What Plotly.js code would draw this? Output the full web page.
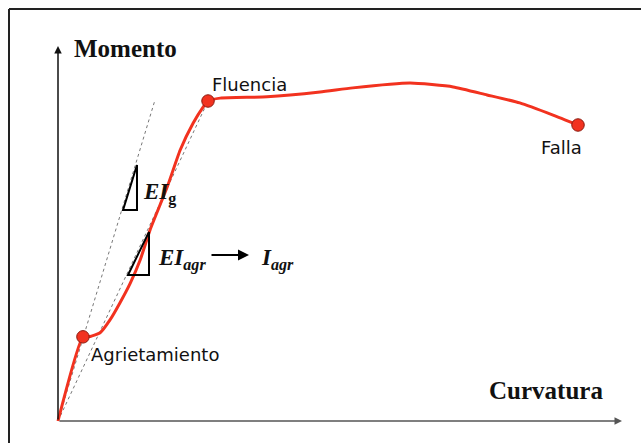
<!DOCTYPE html>
<html>
<head>
<meta charset="utf-8">
<script src="https://cdn.plot.ly/plotly-3.0.1.min.js"></script>
<style>
  html, body { margin: 0; padding: 0; background: #fff; }
  #chart { width: 641px; height: 443px; }
</style>
</head>
<body>
<div id="chart"></div>
<script>
// Moment–curvature diagram of a reinforced concrete section
// (curvature and moment in relative units: Falla at curvature 100, Fluencia at moment 100)

const curvatura = [0, 4.8, 6.2, 8.1, 10.0, 11.9, 13.9, 15.8, 17.7, 21.0, 23.5, 26.0, 27.9, 28.85,
                   31.2, 40.2, 50.4, 56.7, 67.7, 76.0, 82.5, 88.8, 95.2, 100];
const momento   = [0, 26.3, 26.4, 27.6, 31.6, 36.9, 43.1, 50.3, 59.7, 73.1, 84.7, 93.1, 98.1, 100,
                   100.9, 101.3, 102.8, 104.1, 105.6, 104.4, 101.9, 99.4, 95.6, 92.5];

// Characteristic points
const puntos      = ['Agrietamiento', 'Fluencia', 'Falla'];
const puntosCurv  = [4.8, 28.85, 100];
const puntosMom   = [26.3, 100, 92.5];

// Gross-section stiffness line (EIg) and cracked secant stiffness (EIagr, through Fluencia)
const rigidezBrutaCurv = [0, 18.65];
const rigidezBrutaMom  = [0, 100.3];
const rigidezAgrCurv   = [0, puntosCurv[1]];
const rigidezAgrMom    = [0, puntosMom[1]];

const rojo = '#f2321f';

const traces = [
  {
    x: rigidezBrutaCurv, y: rigidezBrutaMom, mode: 'lines',
    line: { color: '#777', width: 1, dash: '3px,3px' }, hoverinfo: 'skip'
  },
  {
    x: rigidezAgrCurv, y: rigidezAgrMom, mode: 'lines',
    line: { color: '#777', width: 1, dash: '3px,3px' }, hoverinfo: 'skip'
  },
  {
    x: curvatura, y: momento, mode: 'lines',
    line: { color: rojo, width: 3, shape: 'spline', smoothing: 0.5 }
  },
  {
    x: puntosCurv, y: puntosMom, mode: 'markers', text: puntos,
    marker: { color: rojo, size: 12.5, line: { color: '#8a1b10', width: 1 } }
  }
];

// pixel scale of the drawing area: 5.2 px per curvature unit, 3.2 px per moment unit
const xr = [-58 / 5.2, (641 - 58) / 5.2];
const yr = [(421 - 443) / 3.2, 421 / 3.2];

const serifB = { family: 'Liberation Serif, Times New Roman, serif', size: 25, color: '#111' };
const sans   = { family: 'DejaVu Sans, Liberation Sans, Arial, sans-serif', size: 18, color: '#111' };
const mathF  = { family: 'Liberation Serif, Times New Roman, serif', size: 23, color: '#111' };

function triangulo(x0, x1, y0, y1) {
  return {
    type: 'path', xref: 'x', yref: 'y',
    path: `M ${x1},${y1} L ${x0},${y0} L ${x1},${y0} Z`,
    line: { color: '#000', width: 2 }, fillcolor: 'rgba(0,0,0,0)'
  };
}

const layout = {
  width: 641, height: 443,
  margin: { l: 0, r: 0, t: 0, b: 0 },
  paper_bgcolor: '#fff', plot_bgcolor: '#fff',
  showlegend: false,
  xaxis: { range: xr, visible: false, fixedrange: true },
  yaxis: { range: yr, visible: false, fixedrange: true },
  shapes: [
    // frame
    { type: 'line', xref: 'paper', yref: 'paper', x0: 9 / 641, x1: 1, y0: 1 - 9 / 443, y1: 1 - 9 / 443,
      line: { color: '#222', width: 2 } },
    { type: 'line', xref: 'paper', yref: 'paper', x0: 9 / 641, x1: 9 / 641, y0: 0, y1: 1 - 9 / 443,
      line: { color: '#222', width: 2 } },
    // slope triangles
    triangulo(12.5, 15.19, 65.9, 80.0),
    triangulo(13.46, 17.5, 45.6, 59.1)
  ],
  annotations: [
    // axes with arrowheads
    { x: 0, y: (421 - 46) / 3.2, ax: 0, ay: 0, xref: 'x', yref: 'y', axref: 'x', ayref: 'y',
      text: '', showarrow: true, arrowhead: 2, arrowsize: 1, arrowwidth: 1.5, arrowcolor: '#111' },
    { x: (622 - 58) / 5.2, y: 0, ax: 0, ay: 0, xref: 'x', yref: 'y', axref: 'x', ayref: 'y',
      text: '', showarrow: true, arrowhead: 2, arrowsize: 1, arrowwidth: 1.5, arrowcolor: '#555' },
    // axis titles
    { x: 2.7, y: 116.5, xref: 'x', yref: 'y', xanchor: 'left', yanchor: 'middle',
      text: '<b>Momento</b>', showarrow: false, font: serifB },
    { x: 82.5, y: 9.6, xref: 'x', yref: 'y', xanchor: 'left', yanchor: 'middle',
      text: '<b>Curvatura</b>', showarrow: false, font: serifB },
    // point labels
    { x: 29.3, y: 105.2, xref: 'x', yref: 'y', xanchor: 'left', yanchor: 'middle',
      text: puntos[1], showarrow: false, font: sans },
    { x: 5.9, y: 20.9, xref: 'x', yref: 'y', xanchor: 'left', yanchor: 'middle',
      text: puntos[0], showarrow: false, font: sans },
    { x: 92.5, y: 85.6, xref: 'x', yref: 'y', xanchor: 'left', yanchor: 'middle',
      text: puntos[2], showarrow: false, font: sans },
    // stiffness labels
    { x: 16.0, y: 71.0, xref: 'x', yref: 'y', xanchor: 'left', yanchor: 'middle',
      text: '<b><i>EI</i><sub>g</sub></b>', showarrow: false, font: mathF },
    { x: 18.9, y: 50.5, xref: 'x', yref: 'y', xanchor: 'left', yanchor: 'middle',
      text: '<b><i>EI</i><sub><i>agr</i></sub></b>', showarrow: false, font: mathF },
    { x: 38.6, y: 50.5, xref: 'x', yref: 'y', xanchor: 'left', yanchor: 'middle',
      text: '<b><i>I</i><sub><i>agr</i></sub></b>', showarrow: false, font: mathF },
    { x: (249 - 58) / 5.2, y: (421 - 255) / 3.2, ax: (210 - 58) / 5.2, ay: (421 - 255) / 3.2,
      xref: 'x', yref: 'y', axref: 'x', ayref: 'y',
      text: '', showarrow: true, arrowhead: 2, arrowsize: 1, arrowwidth: 2.2, arrowcolor: '#000' }
  ]
};

Plotly.newPlot('chart', traces, layout, { displayModeBar: false, staticPlot: true });
</script>
</body>
</html>
